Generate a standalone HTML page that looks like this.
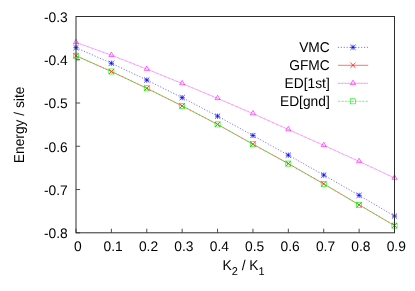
<!DOCTYPE html><html><head><meta charset="utf-8"><style>html,body{margin:0;padding:0;background:#fff}svg{display:block;will-change:transform}text{text-rendering:geometricPrecision;font-family:"Liberation Sans",sans-serif;font-size:13.8px;fill:#000}</style></head><body>
<svg width="415" height="291" viewBox="0 0 415 291">
<rect width="415" height="291" fill="#fff"/>
<path d="M76.00,232.8v-4.1M111.39,232.8v-4.1M146.78,232.8v-4.1M182.17,232.8v-4.1M217.56,232.8v-4.1M252.94,232.8v-4.1M288.33,232.8v-4.1M323.72,232.8v-4.1M359.11,232.8v-4.1M394.50,232.8v-4.1M76.0,16.50h4.1M76.0,59.76h4.1M76.0,103.02h4.1M76.0,146.28h4.1M76.0,189.54h4.1M76.0,232.80h4.1" stroke="#000" stroke-width="0.7" fill="none"/>
<path d="M337.9,47.35H368.2" stroke="#0000ff" stroke-width="0.55" stroke-dasharray="1.16,1.74"/><path d="M350.45,47.35H355.55M353.00,44.80V49.90M350.45,44.80L355.55,49.90M350.45,49.90L355.55,44.80" stroke="#0000ff" stroke-width="0.75" fill="none"/>
<polyline points="76.00,47.65 111.39,63.25 146.78,80.05 182.17,97.65 217.56,116.15 252.94,135.45 288.33,155.15 323.72,175.05 359.11,195.35 394.50,216.05" stroke="#0000ff" stroke-width="0.55" stroke-dasharray="1.16,1.74" fill="none"/>
<path d="M73.45,47.65H78.55M76.00,45.10V50.20M73.45,45.10L78.55,50.20M73.45,50.20L78.55,45.10" stroke="#0000ff" stroke-width="0.75" fill="none"/>
<path d="M108.84,63.25H113.94M111.39,60.70V65.80M108.84,60.70L113.94,65.80M108.84,65.80L113.94,60.70" stroke="#0000ff" stroke-width="0.75" fill="none"/>
<path d="M144.23,80.05H149.33M146.78,77.50V82.60M144.23,77.50L149.33,82.60M144.23,82.60L149.33,77.50" stroke="#0000ff" stroke-width="0.75" fill="none"/>
<path d="M179.62,97.65H184.72M182.17,95.10V100.20M179.62,95.10L184.72,100.20M179.62,100.20L184.72,95.10" stroke="#0000ff" stroke-width="0.75" fill="none"/>
<path d="M215.01,116.15H220.11M217.56,113.60V118.70M215.01,113.60L220.11,118.70M215.01,118.70L220.11,113.60" stroke="#0000ff" stroke-width="0.75" fill="none"/>
<path d="M250.39,135.45H255.49M252.94,132.90V138.00M250.39,132.90L255.49,138.00M250.39,138.00L255.49,132.90" stroke="#0000ff" stroke-width="0.75" fill="none"/>
<path d="M285.78,155.15H290.88M288.33,152.60V157.70M285.78,152.60L290.88,157.70M285.78,157.70L290.88,152.60" stroke="#0000ff" stroke-width="0.75" fill="none"/>
<path d="M321.17,175.05H326.27M323.72,172.50V177.60M321.17,172.50L326.27,177.60M321.17,177.60L326.27,172.50" stroke="#0000ff" stroke-width="0.75" fill="none"/>
<path d="M356.56,195.35H361.66M359.11,192.80V197.90M356.56,192.80L361.66,197.90M356.56,197.90L361.66,192.80" stroke="#0000ff" stroke-width="0.75" fill="none"/>
<path d="M391.95,216.05H397.05M394.50,213.50V218.60M391.95,213.50L397.05,218.60M391.95,218.60L397.05,213.50" stroke="#0000ff" stroke-width="0.75" fill="none"/>
<path d="M337.9,65.3H368.2" stroke="#ff0000" stroke-width="0.55"/><path d="M350.45,62.75L355.55,67.85M350.45,67.85L355.55,62.75" stroke="#ff0000" stroke-width="0.75" fill="none"/>
<polyline points="76.00,55.70 111.39,71.50 146.78,88.30 182.17,105.90 217.56,124.40 252.94,144.20 288.33,163.60 323.72,183.90 359.11,204.80 394.50,225.60" stroke="#ff0000" stroke-width="0.3" fill="none"/>
<polyline points="76.00,55.70 111.39,71.50 146.78,88.30 182.17,105.90 217.56,124.40 252.94,144.20 288.33,163.60 323.72,183.90 359.11,204.80 394.50,225.60" stroke="#ff0000" stroke-width="0.55" stroke-dasharray="1.3,2.15" stroke-dashoffset="1.45" fill="none"/>
<path d="M73.45,53.15L78.55,58.25M73.45,58.25L78.55,53.15" stroke="#ff0000" stroke-width="0.75" fill="none"/>
<path d="M108.84,68.95L113.94,74.05M108.84,74.05L113.94,68.95" stroke="#ff0000" stroke-width="0.75" fill="none"/>
<path d="M144.23,85.75L149.33,90.85M144.23,90.85L149.33,85.75" stroke="#ff0000" stroke-width="0.75" fill="none"/>
<path d="M179.62,103.35L184.72,108.45M179.62,108.45L184.72,103.35" stroke="#ff0000" stroke-width="0.75" fill="none"/>
<path d="M215.01,121.85L220.11,126.95M215.01,126.95L220.11,121.85" stroke="#ff0000" stroke-width="0.75" fill="none"/>
<path d="M250.39,141.65L255.49,146.75M250.39,146.75L255.49,141.65" stroke="#ff0000" stroke-width="0.75" fill="none"/>
<path d="M285.78,161.05L290.88,166.15M285.78,166.15L290.88,161.05" stroke="#ff0000" stroke-width="0.75" fill="none"/>
<path d="M321.17,181.35L326.27,186.45M321.17,186.45L326.27,181.35" stroke="#ff0000" stroke-width="0.75" fill="none"/>
<path d="M356.56,202.25L361.66,207.35M356.56,207.35L361.66,202.25" stroke="#ff0000" stroke-width="0.75" fill="none"/>
<path d="M391.95,223.05L397.05,228.15M391.95,228.15L397.05,223.05" stroke="#ff0000" stroke-width="0.75" fill="none"/>
<path d="M337.9,83.3H368.2" stroke="#ff00ff" stroke-width="0.15"/>
<polyline points="76.00,42.40 111.39,55.20 146.78,69.10 182.17,83.50 217.56,98.40 252.94,113.60 288.33,129.50 323.72,145.30 359.11,161.40 394.50,178.00" stroke="#ff00ff" stroke-width="0.15" fill="none"/>
<path d="M337.9,83.3H368.2" stroke="#ff00ff" stroke-width="0.55" stroke-dasharray="0.7,0.75"/><path d="M353.00,80.19L355.55,84.58H350.45Z" stroke="#ff00ff" stroke-width="0.6" fill="none"/>
<polyline points="76.00,42.40 111.39,55.20 146.78,69.10 182.17,83.50 217.56,98.40 252.94,113.60 288.33,129.50 323.72,145.30 359.11,161.40 394.50,178.00" stroke="#ff00ff" stroke-width="0.55" stroke-dasharray="0.7,0.75" fill="none"/>
<path d="M76.00,39.29L78.55,43.67H73.45Z" stroke="#ff00ff" stroke-width="0.6" fill="none"/>
<path d="M111.39,52.09L113.94,56.47H108.84Z" stroke="#ff00ff" stroke-width="0.6" fill="none"/>
<path d="M146.78,65.99L149.33,70.38H144.23Z" stroke="#ff00ff" stroke-width="0.6" fill="none"/>
<path d="M182.17,80.39L184.72,84.78H179.62Z" stroke="#ff00ff" stroke-width="0.6" fill="none"/>
<path d="M217.56,95.29L220.11,99.67H215.01Z" stroke="#ff00ff" stroke-width="0.6" fill="none"/>
<path d="M252.94,110.49L255.49,114.88H250.39Z" stroke="#ff00ff" stroke-width="0.6" fill="none"/>
<path d="M288.33,126.39L290.88,130.78H285.78Z" stroke="#ff00ff" stroke-width="0.6" fill="none"/>
<path d="M323.72,142.19L326.27,146.58H321.17Z" stroke="#ff00ff" stroke-width="0.6" fill="none"/>
<path d="M359.11,158.29L361.66,162.68H356.56Z" stroke="#ff00ff" stroke-width="0.6" fill="none"/>
<path d="M394.50,174.89L397.05,179.28H391.95Z" stroke="#ff00ff" stroke-width="0.6" fill="none"/>
<path d="M337.9,101.3H368.2" stroke="#00f800" stroke-width="0.55" stroke-dasharray="2.45,1.0"/><rect x="350.45" y="98.75" width="5.10" height="5.10" stroke="#00f800" stroke-width="0.6" fill="none"/><circle cx="353.00" cy="101.30" r="0.35" fill="#00f800"/>
<polyline points="76.00,55.70 111.39,71.50 146.78,88.30 182.17,105.90 217.56,124.40 252.94,144.20 288.33,163.60 323.72,183.90 359.11,204.80 394.50,225.60" stroke="#00f800" stroke-width="0.55" stroke-dasharray="2.45,1.0" fill="none"/>
<rect x="73.45" y="53.15" width="5.10" height="5.10" stroke="#00f800" stroke-width="0.6" fill="none"/><circle cx="76.00" cy="55.70" r="0.35" fill="#00f800"/>
<rect x="108.84" y="68.95" width="5.10" height="5.10" stroke="#00f800" stroke-width="0.6" fill="none"/><circle cx="111.39" cy="71.50" r="0.35" fill="#00f800"/>
<rect x="144.23" y="85.75" width="5.10" height="5.10" stroke="#00f800" stroke-width="0.6" fill="none"/><circle cx="146.78" cy="88.30" r="0.35" fill="#00f800"/>
<rect x="179.62" y="103.35" width="5.10" height="5.10" stroke="#00f800" stroke-width="0.6" fill="none"/><circle cx="182.17" cy="105.90" r="0.35" fill="#00f800"/>
<rect x="215.01" y="121.85" width="5.10" height="5.10" stroke="#00f800" stroke-width="0.6" fill="none"/><circle cx="217.56" cy="124.40" r="0.35" fill="#00f800"/>
<rect x="250.39" y="141.65" width="5.10" height="5.10" stroke="#00f800" stroke-width="0.6" fill="none"/><circle cx="252.94" cy="144.20" r="0.35" fill="#00f800"/>
<rect x="285.78" y="161.05" width="5.10" height="5.10" stroke="#00f800" stroke-width="0.6" fill="none"/><circle cx="288.33" cy="163.60" r="0.35" fill="#00f800"/>
<rect x="321.17" y="181.35" width="5.10" height="5.10" stroke="#00f800" stroke-width="0.6" fill="none"/><circle cx="323.72" cy="183.90" r="0.35" fill="#00f800"/>
<rect x="356.56" y="202.25" width="5.10" height="5.10" stroke="#00f800" stroke-width="0.6" fill="none"/><circle cx="359.11" cy="204.80" r="0.35" fill="#00f800"/>
<rect x="391.95" y="223.05" width="5.10" height="5.10" stroke="#00f800" stroke-width="0.6" fill="none"/><circle cx="394.50" cy="225.60" r="0.35" fill="#00f800"/>
<rect x="76.0" y="16.5" width="318.5" height="216.3" stroke="#2e2e2e" stroke-width="1" fill="none"/>
<text transform="translate(329.8,52.00) scale(1,1.03)" text-anchor="end">VMC</text>
<text transform="translate(329.8,69.95) scale(1,1.03)" text-anchor="end">GFMC</text>
<text transform="translate(329.8,87.95) scale(1,1.03)" text-anchor="end">ED[1st]</text>
<text transform="translate(329.8,105.95) scale(1,1.03)" text-anchor="end">ED[gnd]</text>
<text x="67.7" y="21.7" text-anchor="end">-0.3</text>
<text x="67.7" y="65.0" text-anchor="end">-0.4</text>
<text x="67.7" y="108.2" text-anchor="end">-0.5</text>
<text x="67.7" y="151.5" text-anchor="end">-0.6</text>
<text x="67.7" y="194.7" text-anchor="end">-0.7</text>
<text x="67.7" y="238.0" text-anchor="end">-0.8</text>
<text x="77.75" y="251.3" text-anchor="middle">0</text>
<text x="113.14" y="251.3" text-anchor="middle">0.1</text>
<text x="148.53" y="251.3" text-anchor="middle">0.2</text>
<text x="183.92" y="251.3" text-anchor="middle">0.3</text>
<text x="219.31" y="251.3" text-anchor="middle">0.4</text>
<text x="254.69" y="251.3" text-anchor="middle">0.5</text>
<text x="290.08" y="251.3" text-anchor="middle">0.6</text>
<text x="325.47" y="251.3" text-anchor="middle">0.7</text>
<text x="360.86" y="251.3" text-anchor="middle">0.8</text>
<text x="396.25" y="251.3" text-anchor="middle">0.9</text>
<text transform="translate(243.6,270.1) scale(1,1.03)" text-anchor="middle">K<tspan font-size="11px" dy="4.9">2</tspan><tspan dy="-4.9"> / K</tspan><tspan font-size="11px" dy="4.9">1</tspan></text>
<text transform="translate(24.2,124.9) rotate(-90) scale(1,1.04)" text-anchor="middle">Energy / site</text>
</svg></body></html>
